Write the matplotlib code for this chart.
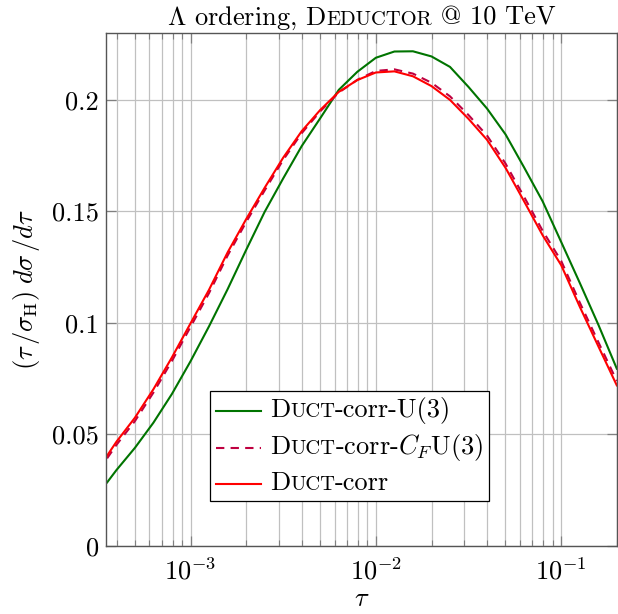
import matplotlib
import matplotlib.pyplot as plt
import matplotlib.ticker as mticker
import numpy as np
from matplotlib.offsetbox import AnchoredOffsetbox, HPacker, VPacker, TextArea, DrawingArea
from matplotlib.lines import Line2D

matplotlib.use("Agg")

plt.rcParams["font.family"] = "cmr10"
plt.rcParams["mathtext.fontset"] = "cm"
plt.rcParams["axes.formatter.use_mathtext"] = True

# log10(tau) sample points
log_tau = [-3.45, -3.4, -3.3, -3.2, -3.1, -3.0, -2.9, -2.8, -2.7, -2.6,
           -2.5, -2.4, -2.3, -2.2, -2.1, -2.0, -1.9, -1.8, -1.7, -1.6,
           -1.5, -1.4, -1.3, -1.2, -1.1, -1.0, -0.9, -0.8, -0.7]
duct_u3 = [0.0285, 0.0340, 0.0440, 0.0553, 0.0682, 0.0828, 0.0985, 0.1151, 0.1327, 0.1498,
           0.1648, 0.1793, 0.1918, 0.2045, 0.2126, 0.2189, 0.2217, 0.2218, 0.2195, 0.2148,
           0.2058, 0.1961, 0.1845, 0.1697, 0.1545, 0.1363, 0.1180, 0.0993, 0.0795]
duct_cf_u3 = [0.0393, 0.0453, 0.0560, 0.0688, 0.0830, 0.0982, 0.1134, 0.1302, 0.1452, 0.1594,
              0.1731, 0.1851, 0.1949, 0.2033, 0.2090, 0.2130, 0.2137, 0.2118, 0.2077, 0.2016,
              0.1932, 0.1840, 0.1714, 0.1565, 0.1413, 0.1278, 0.1092, 0.0915, 0.0740]
duct_corr = [0.0405, 0.0467, 0.0575, 0.0703, 0.0846, 0.0998, 0.1149, 0.1316, 0.1465, 0.1606,
             0.1741, 0.1860, 0.1955, 0.2036, 0.2089, 0.2123, 0.2128, 0.2106, 0.2062, 0.2000,
             0.1915, 0.1821, 0.1695, 0.1545, 0.1393, 0.1259, 0.1073, 0.0896, 0.0720]
y_ticks = [0, 0.05, 0.1, 0.15, 0.2]

tau = 10.0 ** np.array(log_tau)

GREEN = "#007400"
PURPLE = "#bf0040"
RED = "#ff0000"
FS = 19

fig = plt.figure(figsize=(6.18, 6.14), dpi=100)
ax = fig.add_axes([106 / 618, 68 / 614, 511 / 618, 513 / 614])

ax.plot(tau, duct_u3, color=GREEN, lw=1.5)
ax.plot(tau, duct_cf_u3, color=PURPLE, lw=1.5, ls=(0, (4, 3)))
ax.plot(tau, duct_corr, color=RED, lw=1.5)

ax.set_xscale("log")
ax.set_xlim(3.5e-4, 0.2)
ax.set_ylim(0, 0.23)
ax.yaxis.set_major_locator(mticker.FixedLocator(y_ticks))
ax.yaxis.set_major_formatter(mticker.FuncFormatter(lambda v, p: f"{v:g}"))
ax.xaxis.set_major_locator(mticker.LogLocator(base=10))
ax.xaxis.set_minor_locator(mticker.LogLocator(base=10, subs=np.arange(2, 10)))
ax.xaxis.set_minor_formatter(mticker.NullFormatter())

ax.grid(True, which="major", color="#c0c0c0", lw=0.9)
ax.grid(True, which="minor", axis="x", color="#c0c0c0", lw=0.9)
ax.set_axisbelow(True)
ax.tick_params(which="both", direction="in", top=True, right=True,
               color="#808080", labelsize=FS)
ax.tick_params(axis="x", pad=8)
ax.tick_params(axis="y", pad=5)
ax.tick_params(which="major", length=7, width=0.9)
ax.tick_params(which="minor", length=4, width=0.8)
for s in ax.spines.values():
    s.set_color("#555555")
    s.set_linewidth(1.0)

ax.set_xlabel(r"$\tau$", fontsize=FS, labelpad=2)
ax.set_ylabel(r"$(\tau\,/\sigma_{\mathrm{H}})\;d\sigma\,/d\tau$", fontsize=FS, labelpad=7)


def sc_text(parts, size):
    # fake small caps: (text, small) pieces packed on a common baseline
    boxes = [TextArea(t, textprops=dict(size=size * 0.78 if small else size)) for t, small in parts]
    return HPacker(children=boxes, align="baseline", pad=0, sep=0)


# title
title = sc_text([(r"$\Lambda$ ordering, D", False), ("EDUCTOR", True), (" @ 10 TeV", False)], FS)
tbox = AnchoredOffsetbox(loc="lower center", child=title, pad=0, borderpad=0,
                         bbox_to_anchor=(0.5, 1.0 + 1 / 513), bbox_transform=ax.transAxes,
                         frameon=False)
ax.add_artist(tbox)

# legend
entries = [
    (GREEN, "-", [("D", False), ("UCT", True), ("-corr-U(3)", False)]),
    (PURPLE, (0, (4, 3)), [("D", False), ("UCT", True), (r"-corr-$C_F$U(3)", False)]),
    (RED, "-", [("D", False), ("UCT", True), ("-corr", False)]),
]
rows = []
for color, ls, parts in entries:
    da = DrawingArea(33, 12, 0, 0)
    da.add_artist(Line2D([0, 33], [6, 6], color=color, lw=1.5, ls=ls))
    rows.append(HPacker(children=[da, sc_text(parts, FS)], align="center", pad=0, sep=6))
leg = AnchoredOffsetbox(loc="lower left", child=VPacker(children=rows, align="left", pad=0, sep=6),
                        pad=0.4, borderpad=0, bbox_to_anchor=(0.2035, 0.0877),
                        bbox_transform=ax.transAxes, frameon=True)
leg.patch.set_boxstyle("square", pad=0)
leg.patch.set_edgecolor("black")
leg.patch.set_linewidth(0.9)
ax.add_artist(leg)

plt.savefig("out.png", dpi=100)
